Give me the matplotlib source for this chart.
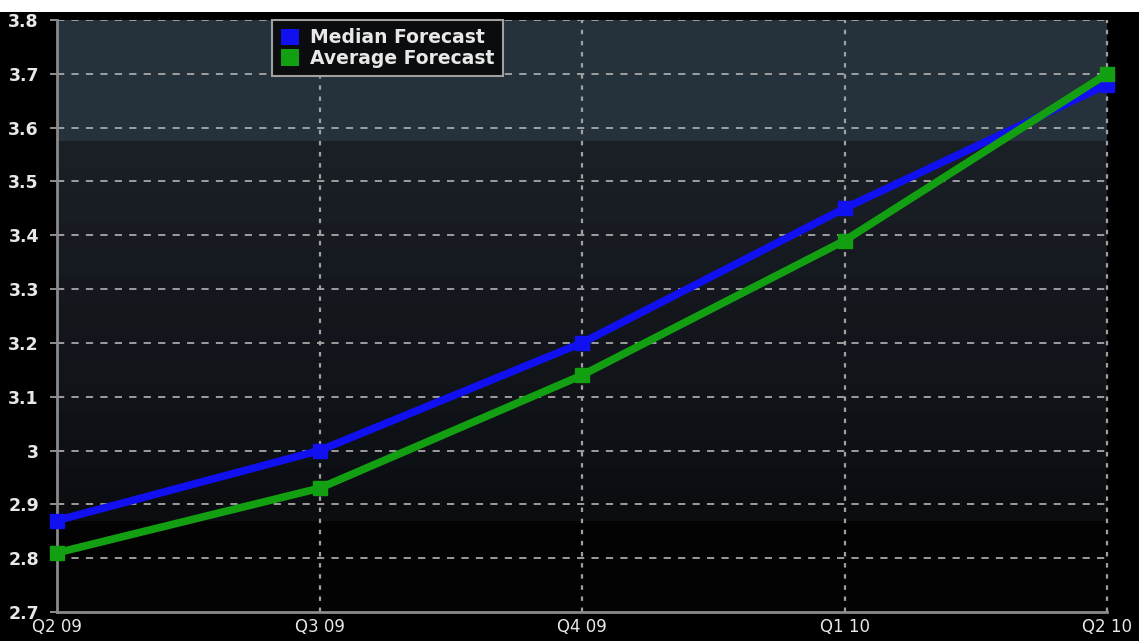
import matplotlib
matplotlib.use("Agg")
import matplotlib.pyplot as plt
from matplotlib.patches import Patch, Rectangle
import numpy as np

# ---- data ----
quarters = ["Q2 09", "Q3 09", "Q4 09", "Q1 10", "Q2 10"]
median_forecast = [2.87, 3.00, 3.20, 3.45, 3.68]
average_forecast = [2.81, 2.93, 3.14, 3.39, 3.70]
y_ticks = [2.7, 2.8, 2.9, 3.0, 3.1, 3.2, 3.3, 3.4, 3.5, 3.6, 3.7, 3.8]
y_labels = ["2.7", "2.8", "2.9", "3", "3.1", "3.2", "3.3", "3.4", "3.5", "3.6", "3.7", "3.8"]

W, H = 1143, 641
fig = plt.figure(figsize=(W / 100, H / 100), dpi=100, facecolor="white")

# black frame of the chart image (white strip at top / right edge)
fig.patches.append(Rectangle((0, 0), 1139 / W, 629 / H, transform=fig.transFigure,
                             facecolor="black", edgecolor="none", zorder=-10))

left, right = 57 / W, 1107 / W
bottom, top = (H - 612) / H, (H - 20) / H
ax = fig.add_axes([left, bottom, right - left, top - bottom])
ax.set_facecolor("black")

x = np.arange(len(quarters))
ax.set_xlim(0, len(quarters) - 1)
ax.set_ylim(2.7, 3.8)

# background bands
ax.axhspan(3.575, 3.8, facecolor="#25323b", edgecolor="none", zorder=0)
n = 14
edges = np.linspace(2.87, 3.575, n + 1)
c_top = np.array([0x1a, 0x1f, 0x26]) / 255
c_bot = np.array([0x0b, 0x0d, 0x11]) / 255
for i in range(n):
    t = i / (n - 1)
    col = c_bot * (1 - t) + c_top * t
    ax.axhspan(edges[i], edges[i + 1], facecolor=col, edgecolor="none", zorder=0)
ax.axhspan(2.7, 2.87, facecolor="#030304", edgecolor="none", zorder=0)

# grid
for yv in y_ticks[1:]:
    ax.axhline(yv, color="#a8a8a8", lw=1.3, ls=(0, (4, 4)), zorder=1)
for xv in x[1:]:
    ax.axvline(xv, color="#a0a0a0", lw=1.6, ls=(0, (2, 3)), zorder=1, clip_on=False)

# lines
ax.plot(x, median_forecast, color="#1010f0", lw=5.5, marker="s", ms=10,
        solid_joinstyle="round", zorder=3, clip_on=False)
ax.plot(x, average_forecast, color="#12a012", lw=5.5, marker="s", ms=10,
        solid_joinstyle="round", zorder=4, clip_on=False)

# spines
for s in ["top", "right"]:
    ax.spines[s].set_visible(False)
for s in ["left", "bottom"]:
    ax.spines[s].set_color("#8a8a8a")
    ax.spines[s].set_linewidth(2)
    ax.spines[s].set_zorder(2)

ax.set_xticks(x)
ax.set_xticklabels(quarters)
ax.set_yticks(y_ticks)
ax.set_yticklabels(y_labels)
ax.tick_params(axis="y", colors="#9a9a9a", length=5, width=1.3, pad=8,
               labelcolor="#e8e8e8", labelsize=12.5)
ax.tick_params(axis="x", length=0, pad=4, labelcolor="#e8e8e8", labelsize=12)
for lab in ax.get_yticklabels():
    lab.set_fontweight("bold")

handles = [Patch(facecolor="#1010f0", edgecolor="none", label="Median Forecast"),
           Patch(facecolor="#12a012", edgecolor="none", label="Average Forecast")]
leg = ax.legend(handles=handles, loc="upper left", bbox_to_anchor=(0.205, 1.0),
                borderaxespad=0, frameon=True, fancybox=False,
                prop={"size": 13.5, "weight": "bold"},
                handlelength=1.0, handleheight=1.0, handletextpad=0.55,
                labelspacing=0.08, borderpad=0.45)
leg.get_frame().set_facecolor("#0a0c0e")
leg.get_frame().set_edgecolor("#a0a0a0")
leg.get_frame().set_linewidth(1.5)
leg.get_frame().set_alpha(1)
for t in leg.get_texts():
    t.set_color("#e8e8e8")
leg.set_zorder(10)

fig.savefig("out.png", dpi=100, facecolor=fig.get_facecolor())
